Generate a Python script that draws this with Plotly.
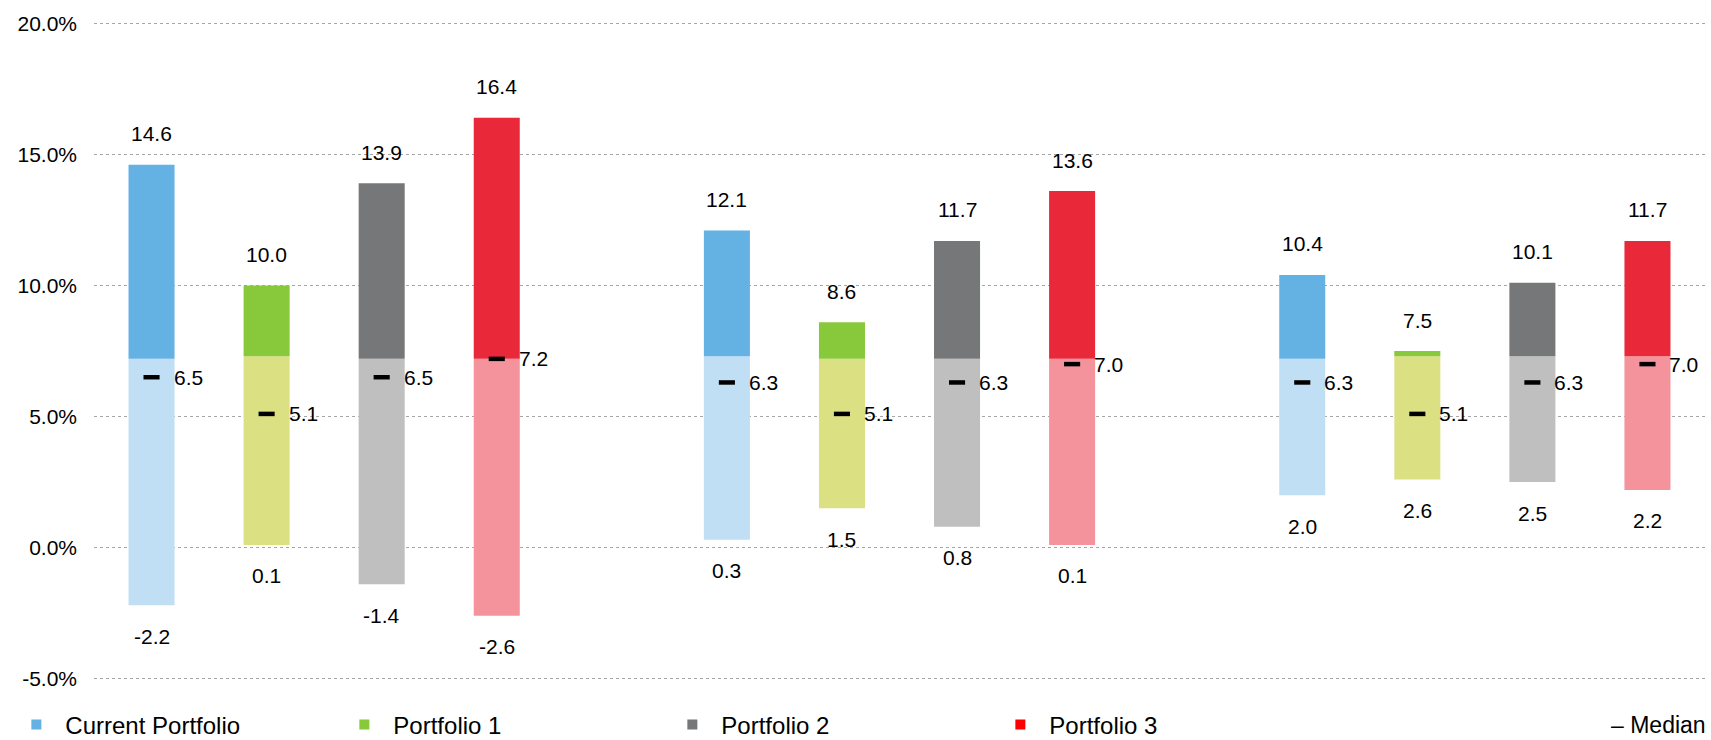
import plotly.graph_objects as go

# ---- data ----
series = ["Current Portfolio", "Portfolio 1", "Portfolio 2", "Portfolio 3"]
n_groups = 3

high_current = [14.6, 12.1, 10.4]
high_p1 = [10.0, 8.6, 7.5]
high_p2 = [13.9, 11.7, 10.1]
high_p3 = [16.4, 13.6, 11.7]

low_current = [-2.2, 0.3, 2.0]
low_p1 = [0.1, 1.5, 2.6]
low_p2 = [-1.4, 0.8, 2.5]
low_p3 = [-2.6, 0.1, 2.2]

median_current = [6.5, 6.3, 6.3]
median_p1 = [5.1, 5.1, 5.1]
median_p2 = [6.5, 6.3, 6.3]
median_p3 = [7.2, 7.0, 7.0]

split_current = [7.2, 7.3, 7.2]
split_p1 = [7.3, 7.2, 7.3]
split_p2 = [7.2, 7.2, 7.3]
split_p3 = [7.2, 7.2, 7.3]

y_ticks = [-5, 0, 5, 10, 15, 20]

# ---- styles ----
dark_colors = ["#64b1e4", "#88c83b", "#767778", "#e9283a"]
light_colors = ["#c1dff4", "#dbe083", "#bfbfbf", "#f4939b"]
legend_colors = ["#64b1e4", "#88c83b", "#767778", "#ff0000"]
FONT = "Liberation Sans, Arial, sans-serif"

highs = [high_current, high_p1, high_p2, high_p3]
lows = [low_current, low_p1, low_p2, low_p3]
medians = [median_current, median_p1, median_p2, median_p3]
splits = [split_current, split_p1, split_p2, split_p3]

fig = go.Figure()
annotations = []

for s, name in enumerate(series):
    xs = [g * 5 + s for g in range(n_groups)]
    lo, sp, hi, md = lows[s], splits[s], highs[s], medians[s]
    # lower (light) part
    fig.add_trace(go.Bar(
        x=xs, base=lo, y=[sp[i] - lo[i] for i in range(n_groups)],
        width=0.4, marker=dict(color=light_colors[s], line=dict(width=0)),
        showlegend=False, hoverinfo="skip"))
    # upper (dark) part
    fig.add_trace(go.Bar(
        x=xs, base=sp, y=[hi[i] - sp[i] for i in range(n_groups)],
        width=0.4, marker=dict(color=dark_colors[s], line=dict(width=0)),
        showlegend=False, hoverinfo="skip"))
    # median markers
    fig.add_trace(go.Scatter(
        x=xs, y=md, mode="markers",
        marker=dict(symbol="line-ew", size=11.5, line=dict(width=4.5, color="black")),
        showlegend=False, hoverinfo="skip"))
    # legend entry
    fig.add_trace(go.Scatter(
        x=[None], y=[None], mode="markers", name=name,
        marker=dict(symbol="square", size=10, color=legend_colors[s])))
    for i in range(n_groups):
        annotations.append(dict(x=xs[i], y=hi[i], text=f"{hi[i]:.1f}", showarrow=False,
                                xanchor="center", yanchor="middle", yshift=31,
                                font=dict(size=21, color="black", family=FONT)))
        annotations.append(dict(x=xs[i], y=lo[i], text=f"{lo[i]:.1f}", showarrow=False,
                                xanchor="center", yanchor="middle", yshift=-31,
                                font=dict(size=21, color="black", family=FONT)))
        annotations.append(dict(x=xs[i], y=md[i], text=f"{md[i]:.1f}", showarrow=False,
                                xanchor="left", yanchor="middle", xshift=20,
                                font=dict(size=21, color="black", family=FONT)))

annotations.append(dict(xref="paper", yref="paper", x=1, y=-0.069, text="– Median",
                        showarrow=False, xanchor="right", yanchor="middle", xshift=3,
                        font=dict(size=23, color="black", family=FONT)))

fig.update_layout(
    width=1711, height=740,
    margin=dict(l=94, r=6, t=22, b=60),
    plot_bgcolor="white", paper_bgcolor="white",
    barmode="overlay",
    font=dict(family=FONT, color="black"),
    annotations=annotations,
    xaxis=dict(range=[-0.5, 13.5], showticklabels=False, showgrid=False,
               zeroline=False, showline=False, ticks="", automargin=False),
    yaxis=dict(range=[-5.05, 20.05], tickvals=y_ticks,
               ticktext=[f"{v:.1f}%" for v in y_ticks],
               showgrid=True, gridcolor="#a6a6a6", griddash="dot", gridwidth=1,
               zeroline=False, showline=False, ticks="", automargin=False,
               ticklabelstandoff=16,
               tickfont=dict(size=21, color="black", family=FONT)),
    legend=dict(orientation="h", xref="container", yref="container",
                x=0.0043, y=0.0205, xanchor="left", yanchor="middle",
                entrywidth=265, entrywidthmode="pixels", itemwidth=48,
                font=dict(size=24, color="black", family=FONT),
                bgcolor="rgba(0,0,0,0)"),
)

fig.write_html("out.html",
               config={"displayModeBar": False},
               post_script="document.body.style.margin='0';document.body.style.overflow='hidden';")
